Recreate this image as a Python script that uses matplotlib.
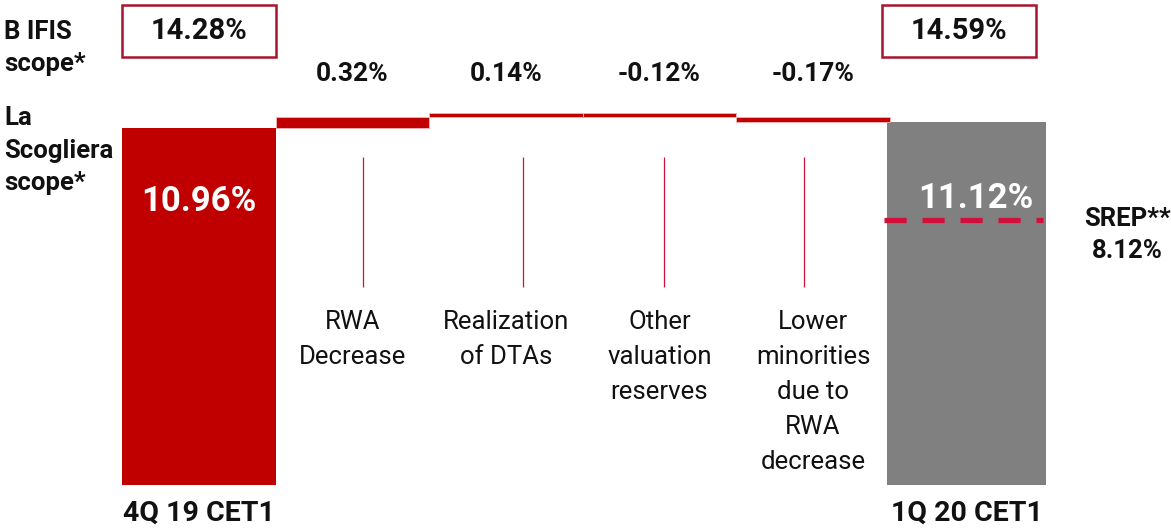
import numpy as np
import matplotlib
matplotlib.use("Agg")
import matplotlib.pyplot as plt
from matplotlib.patches import Rectangle

plt.rcParams['font.family'] = ['Roboto', 'DejaVu Sans']

# data
start_label = "4Q 19 CET1"
end_label = "1Q 20 CET1"
start_value = 10.96
end_value = 11.12
bifis_start = "14.28%"
bifis_end = "14.59%"
step_names = ["RWA\nDecrease", "Realization\nof DTAs", "Other\nvaluation\nreserves",
              "Lower\nminorities\ndue to\nRWA\ndecrease"]
step_values = [0.32, 0.14, -0.12, -0.17]
srep_value = 8.12

RED = "#C00000"
GREY = "#808080"
BOX = "#A8142E"
DASH = "#D0103A"
INK = "#111111"

fig = plt.figure(figsize=(11.71, 5.28), dpi=100)
ax = fig.add_axes([0, 0, 1, 1])
ax.set_xlim(-1.296, 6.332)
ax.set_ylim(-1.319, 14.877)
ax.axis("off")

n = len(step_values)
x_steps = np.arange(1, n + 1)
x_end = n + 1

# first and last bars
ax.bar(0, start_value, width=1.0, color=RED)
ax.bar(x_end, end_value, width=1.03, color=GREY)

# floating steps
bottoms = start_value + np.concatenate(([0], np.cumsum(step_values)[:-1]))
ax.bar(x_steps, step_values, bottom=bottoms, width=1.0, color=RED,
       edgecolor="#F2B8B8", linewidth=0.6)

# step value labels and category labels
for x, v, name in zip(x_steps, step_values, step_names):
    ax.text(x, 12.6, f"{v:.2f}%", ha="center", va="center", fontsize=19,
            fontweight="semibold", color=INK)
    ax.text(x, 5.38, name, ha="center", va="top", fontsize=18.5,
            color=INK, linespacing=1.58)
ax.vlines(x_steps + np.array([0.07, 0.11, 0.03, -0.06]), 6.07, 10.06,
          color=DASH, linewidth=0.9)

# values inside the big bars
ax.text(0, 8.7, f"{start_value:.2f}%", ha="center", va="center",
        fontsize=25, color="white", fontweight="semibold")
ax.text(x_end + 0.06, 8.8, f"{end_value:.2f}%", ha="center", va="center",
        fontsize=25, color="white", fontweight="semibold")

# B IFIS scope boxes
for x, lab in [(0, bifis_start), (x_end - 0.05, bifis_end)]:
    ax.add_patch(Rectangle((x - 0.5, 13.13), 1.0, 1.59, facecolor="white",
                           edgecolor=BOX, linewidth=1.8))
    ax.text(x, 13.93, lab, ha="center", va="center", fontsize=21,
            fontweight="semibold", color=INK)

# SREP requirement
ax.hlines(srep_value, x_end - 0.54, x_end + 0.5, colors=DASH, linewidth=3.8,
          linestyles=(0, (4.2, 3.0)))
ax.text(x_end + 1.05, srep_value - 0.45, f"SREP**\n{srep_value:.2f}%",
        ha="center", va="center", fontsize=18.5, fontweight="semibold",
        color=INK, linespacing=1.45)

# bottom labels
ax.text(0, -0.88, start_label, ha="center", va="center", fontsize=20.5,
        fontweight="semibold", color=INK)
ax.text(x_end, -0.88, end_label, ha="center", va="center", fontsize=20.5,
        fontweight="semibold", color=INK)

# scope labels on the left
ax.text(-1.27, 13.4, "B IFIS\nscope*", ha="left", va="center", fontsize=18.5,
        fontweight="semibold", color=INK, linespacing=1.4)
ax.text(-1.27, 10.25, "La\nScogliera\nscope*", ha="left", va="center",
        fontsize=18.5, fontweight="semibold", color=INK, linespacing=1.45)

fig.savefig("out.png", dpi=100)
